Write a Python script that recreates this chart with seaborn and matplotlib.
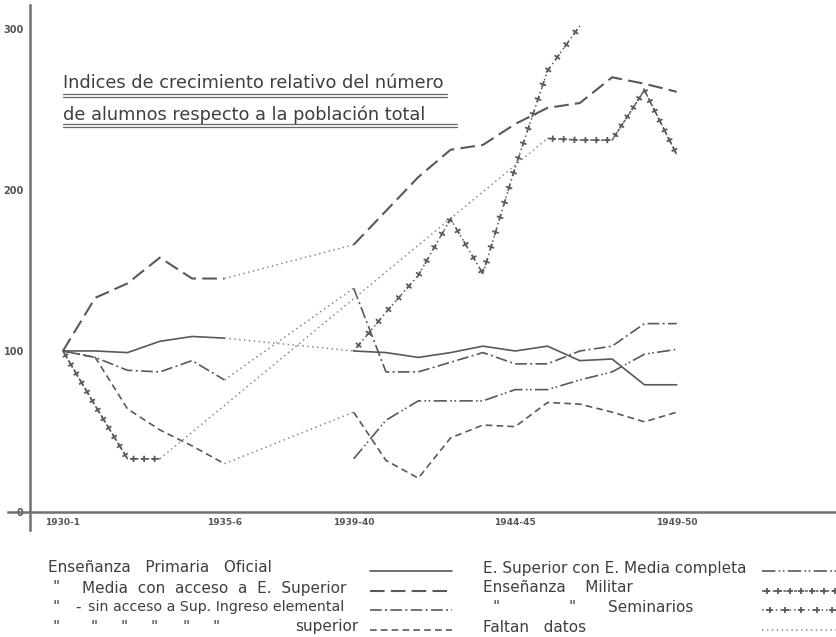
import numpy as np
import pandas as pd
import matplotlib
matplotlib.use('Agg')
import matplotlib.pyplot as plt
import matplotlib.patheffects as pe
import seaborn as sns

nan = np.nan

# indices (1930-1 = 100), un valor por curso
years = list(range(1930, 1950))
primaria = [100, 100, 99, 106, 109, 108, nan, nan, nan, 100, 99, 96, 99, 103, 100, 103, 94, 95, 79, 79]
media_acceso = [100, 133, 142, 158, 145, 145, nan, nan, nan, 166, 187, 208, 225, 228, 241, 251, 254, 270, 266, 261]
media_elemental = [100, 96, 88, 87, 94, 82, nan, nan, nan, 139, 87, 87, 93, 99, 92, 92, 100, 103, 117, 117]
media_superior = [100, 96, 64, 51, 41, 30, nan, nan, nan, 62, 32, 21, 46, 54, 53, 68, 67, 62, 56, 62]
superior_media = [nan] * 9 + [33, 57, 69, 69, 69, 76, 76, 82, 87, 98, 101]
militar = [100, 66, 33, 33] + [nan] * 11 + [232, 231, 231, 262, 222]
seminarios = [nan] * 9 + [100, 124, 147, 182, 148, 214, 274, 302] + [nan] * 3

x_ticks = [1930, 1935, 1939, 1944, 1949]
x_labels = ['1930-1', '1935-6', '1939-40', '1944-45', '1949-50']
y_ticks = [0, 100, 200, 300]

LINE = '#595959'
DOT = '#8a8a8a'
AXC = '#707070'


def cruz(spacing, length):
    solid = dict(dash_offset=0, dash_list=None)
    return [pe.Normal()] + [pe.TickedStroke(spacing=spacing, angle=a, length=length,
                                            linewidth=1.3, dashes=solid)
                            for a in (0, 90, 180, -90)]


estilos = [
    (primaria, dict(linestyle='-', linewidth=1.2)),
    (media_acceso, dict(linestyle=(0, (7, 3)), linewidth=1.5)),
    (media_elemental, dict(linestyle=(0, (7, 2, 1.2, 2)), linewidth=1.2)),
    (media_superior, dict(linestyle=(0, (4, 2.5)), linewidth=1.2)),
    (superior_media, dict(linestyle=(0, (8, 2, 1, 1.5, 1, 2)), linewidth=1.2)),
    (militar, dict(linestyle=(0, (2, 1.5)), linewidth=1.1, path_effects=cruz(7.5, 0.3))),
    (seminarios, dict(linestyle=(0, (1, 2)), linewidth=1.1, path_effects=cruz(11, 0.22))),
]
faltan = dict(linestyle=(0, (1, 2.2)), linewidth=1.1)

sns.set_theme(style='white')
plt.rcParams['font.family'] = ['DejaVu Sans']

fig = plt.figure(figsize=(8.36, 6.37), dpi=100)
ax = fig.add_axes([8 / 836, 107 / 637, 828 / 836, 525 / 637])


def tramos(vals):
    ok = ~np.isnan(np.array(vals, dtype=float))
    runs, start = [], None
    for i, v in enumerate(ok):
        if v and start is None:
            start = i
        if not v and start is not None:
            runs.append((start, i - 1))
            start = None
    if start is not None:
        runs.append((start, len(vals) - 1))
    return runs


for vals, kw in estilos:
    s = pd.Series(vals, index=years, dtype=float)
    runs = tramos(vals)
    for a, b in runs:
        part = s.iloc[a:b + 1]
        sns.lineplot(x=part.index, y=part.values, ax=ax, color=LINE, estimator=None, **kw)
    # tramos sin datos -> punteado
    for (a0, b0), (a1, b1) in zip(runs[:-1], runs[1:]):
        part = s.iloc[[b0, a1]]
        sns.lineplot(x=part.index, y=part.values, ax=ax, color=DOT, estimator=None, **faltan)

ax.set_xlim(1928.3, 1953.93)
ax.set_ylim(-11.2, 314.9)
for side in ['top', 'right']:
    ax.spines[side].set_visible(False)
ax.spines['left'].set_position(('data', 1928.98))
ax.spines['bottom'].set_position(('data', 0))
for side in ['left', 'bottom']:
    ax.spines[side].set_color(AXC)
    ax.spines[side].set_linewidth(1.8)

ax.set_xticks(x_ticks)
ax.set_xticklabels(x_labels, fontsize=6.5, fontweight='bold', color='#555')
ax.set_xticks(range(1929, 1954), minor=True)
ax.set_yticks(y_ticks)
ax.set_yticklabels([str(v) for v in y_ticks], fontsize=7, fontweight='bold', color='#555')
ax.set_yticks(range(0, 320, 20), minor=True)
ax.tick_params(which='both', direction='inout', color=AXC, width=1, length=5, pad=2)
ax.set_xlabel('')
ax.set_ylabel('')

# capa para titulo y leyenda en pixeles
ov = fig.add_axes([0, 0, 1, 1], zorder=5)
ov.set_xlim(0, 836)
ov.set_ylim(637, 0)
ov.axis('off')

tc = '#3f3f3f'
ov.text(63, 83, 'Indices de crecimiento relativo del número', fontsize=12.8, color=tc, va='center')
ov.text(63, 115, 'de alumnos respecto a la población total', fontsize=12.8, color=tc, va='center')
for y0, x1 in [(94, 447), (96.5, 447), (124, 457), (126.5, 457)]:
    ov.plot([63, x1], [y0, y0], color='#666', linewidth=0.9)

fs = 11
rows = [568, 588, 607, 627]
ov.text(48, rows[0], 'Enseñanza   Primaria   Oficial', fontsize=fs, color=tc, va='center')
ov.text(53, rows[1], '"', fontsize=fs, color=tc, va='center')
ov.text(82, rows[1], 'Media  con  acceso  a  E.  Superior', fontsize=fs, color=tc, va='center')
ov.text(53, rows[2], '"', fontsize=fs, color=tc, va='center')
ov.text(75, rows[2], '-', fontsize=fs, color=tc, va='center')
ov.text(88, rows[2], 'sin acceso a Sup. Ingreso elemental', fontsize=10.2, color=tc, va='center')
for xq in [53, 90, 120, 150, 183, 213]:
    ov.text(xq, rows[3], '"', fontsize=fs, color=tc, va='center')
ov.text(295, rows[3], 'superior', fontsize=fs, color=tc, va='center')

ov.text(483, rows[0], 'E. Superior con E. Media completa', fontsize=fs, color=tc, va='center')
ov.text(483, rows[1], 'Enseñanza    Militar', fontsize=fs, color=tc, va='center')
ov.text(492, rows[2], '"', fontsize=fs, color=tc, va='center')
ov.text(568, rows[2], '"', fontsize=fs, color=tc, va='center')
ov.text(608, rows[2], 'Seminarios', fontsize=fs, color=tc, va='center')
ov.text(483, rows[3], 'Faltan   datos', fontsize=fs, color=tc, va='center')

claves_izq = [estilos[0][1], estilos[1][1], estilos[2][1], estilos[3][1]]
claves_der = [estilos[4][1], estilos[5][1], estilos[6][1], faltan]
for y0, kw in zip(rows, claves_izq):
    ov.plot([370, 452], [y0 + 3, y0 + 3], color=LINE, **kw)
for y0, kw in zip(rows, claves_der):
    ov.plot([762, 840], [y0 + 3, y0 + 3], color=LINE if kw is not faltan else DOT, **kw)

plt.savefig('out.png', dpi=100)
